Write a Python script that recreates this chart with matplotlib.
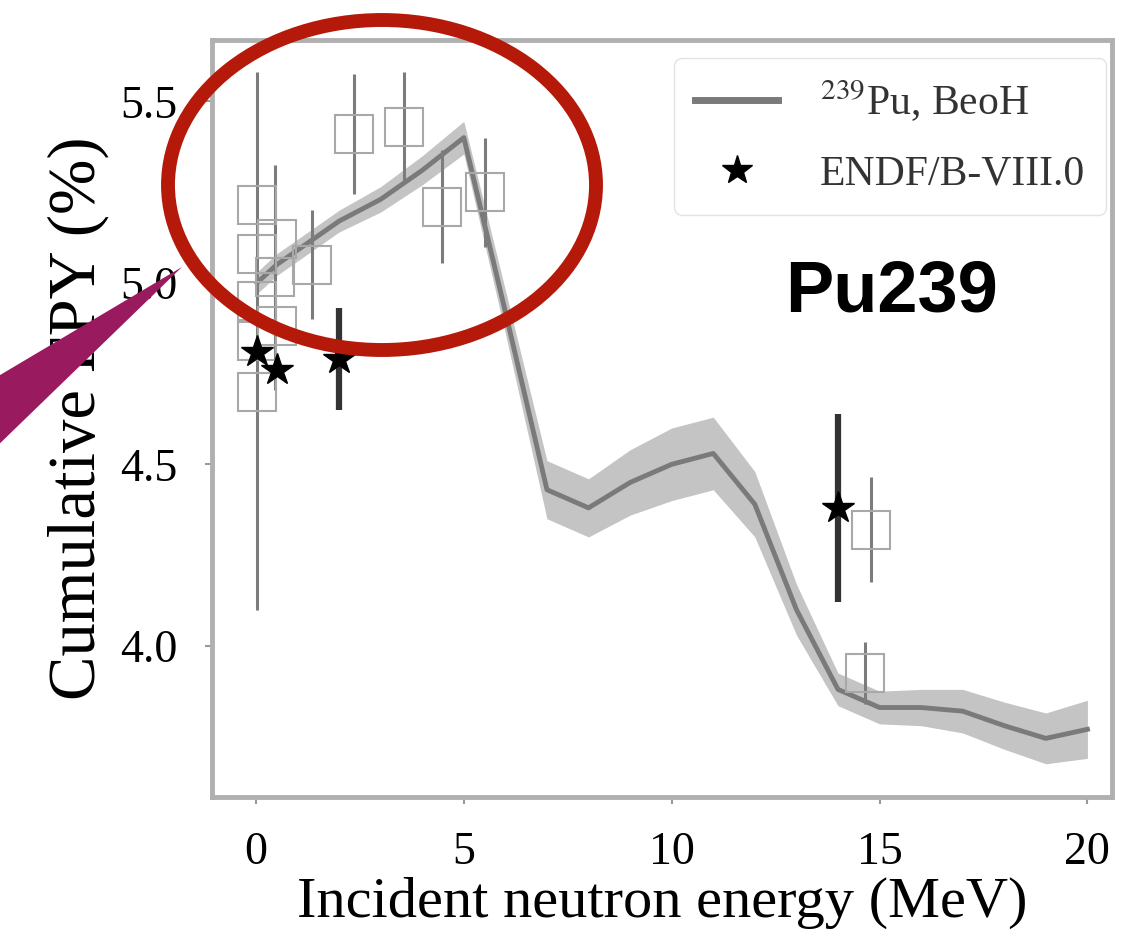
import matplotlib
matplotlib.use('Agg')
import matplotlib.pyplot as plt
from matplotlib.patches import Ellipse, Polygon
from matplotlib.lines import Line2D
import numpy as np

plt.rcParams['font.family'] = ['Liberation Serif', 'DejaVu Serif']
plt.rcParams['mathtext.fontset'] = 'stix'

# BeoH calculation for 239Pu (mean and 1-sigma band)
beoh_e = [0.0253, 0.5, 1, 2, 3, 4, 5, 6, 7, 8, 9, 10, 11, 12, 13, 14, 15, 16, 17, 18, 19, 20]
beoh_fpy = [5.00, 5.05, 5.09, 5.17, 5.23, 5.31, 5.40, 4.92, 4.43, 4.38, 4.45, 4.50, 4.53,
            4.39, 4.10, 3.88, 3.83, 3.83, 3.82, 3.78, 3.745, 3.77]
beoh_unc = [0.03, 0.03, 0.03, 0.03, 0.035, 0.04, 0.045, 0.06, 0.08, 0.08, 0.09, 0.10, 0.10,
            0.09, 0.07, 0.045, 0.045, 0.05, 0.06, 0.065, 0.07, 0.08]

# ENDF/B-VIII.0 evaluated points
endf_e = [0.0253, 0.5, 2.0, 14.0]
endf_fpy = [4.81, 4.76, 4.79, 4.38]
endf_err = [0.02, 0.02, 0.14, 0.26]

# experimental data
exp_e = [0.0253, 0.0253, 0.0253, 0.0253, 0.0253, 0.5, 0.45, 0.5, 1.35, 2.36, 3.56, 4.47, 5.5, 14.8, 14.65]
exp_fpy = [5.215, 5.08, 4.95, 4.84, 4.70, 5.12, 5.015, 4.88, 5.05, 5.41, 5.43, 5.21, 5.25, 4.32, 3.925]
exp_err = [0.0, 0.0, 0.0, 0.74, 0.0, 0.0, 0.31, 0.0, 0.15, 0.165, 0.15, 0.155, 0.15, 0.145, 0.085]

fig = plt.figure(figsize=(11.27, 9.52), dpi=100)
ax = fig.add_axes([0.188, 0.163, 0.799, 0.795])

lo = np.array(beoh_fpy) - np.array(beoh_unc)
hi = np.array(beoh_fpy) + np.array(beoh_unc)
ax.fill_between(beoh_e, lo, hi, color='#c4c4c4', lw=0, zorder=1)
ax.plot(beoh_e, beoh_fpy, color='#7a7a7a', lw=3.5, zorder=2)

ax.errorbar(exp_e, exp_fpy, yerr=exp_err, fmt='s', ms=27, mfc='none', mec='#a8a8a8',
            mew=1.5, ecolor='#7c7c7c', elinewidth=2.2, capsize=0, zorder=3)
ax.errorbar(endf_e, endf_fpy, yerr=endf_err, fmt='*', ms=24, color='black',
            ecolor='#333333', elinewidth=4.5, capsize=0, zorder=4)

ax.set_xlim(-1.06, 20.6)
ax.set_ylim(3.584, 5.669)
ax.set_xticks([0, 5, 10, 15, 20])
ax.set_yticks([4.0, 4.5, 5.0, 5.5])
ax.tick_params(direction='out', length=5, width=1.5, color='#999999', labelsize=33, pad=20)
for s in ax.spines.values():
    s.set_color('#b0b0b0')
    s.set_linewidth(3.5)

ax.set_xlabel('Incident neutron energy (MeV)', fontsize=42, labelpad=2)
ax.set_ylabel('Cumulative FPY (%)', fontsize=48, labelpad=8)

handles = [Line2D([], [], color='#7a7a7a', lw=5),
           Line2D([], [], marker='*', ls='none', color='black', ms=22)]
leg = ax.legend(handles, ['$^{239}$Pu, BeoH', 'ENDF/B-VIII.0'], loc='upper right',
                fontsize=30, frameon=True, fancybox=True, borderpad=0.5,
                handlelength=2.0, handletextpad=1.0, labelspacing=0.75,
                borderaxespad=0.15, bbox_to_anchor=(1.0, 0.985))
leg.get_frame().set_edgecolor('#dddddd')
for t in leg.get_texts():
    t.set_color('#333333')

fig.text(891 / 1127, 1 - 293 / 952, 'Pu239', fontsize=52, fontweight='bold',
         family='Liberation Sans', ha='center', va='center')

# callout overlay in pixel coordinates
ov = fig.add_axes([0, 0, 1, 1], zorder=10)
ov.set_xlim(0, 1127)
ov.set_ylim(952, 0)
ov.axis('off')
ov.patch.set_alpha(0)
ov.add_patch(Polygon([(182, 267), (-10, 381), (-10, 453)], closed=True,
                     facecolor='#9a1a60', edgecolor='none'))
ov.add_patch(Ellipse((382, 185), 428, 330, fill=False, edgecolor='#b5190a', lw=10))

fig.savefig('out.png', dpi=100)
